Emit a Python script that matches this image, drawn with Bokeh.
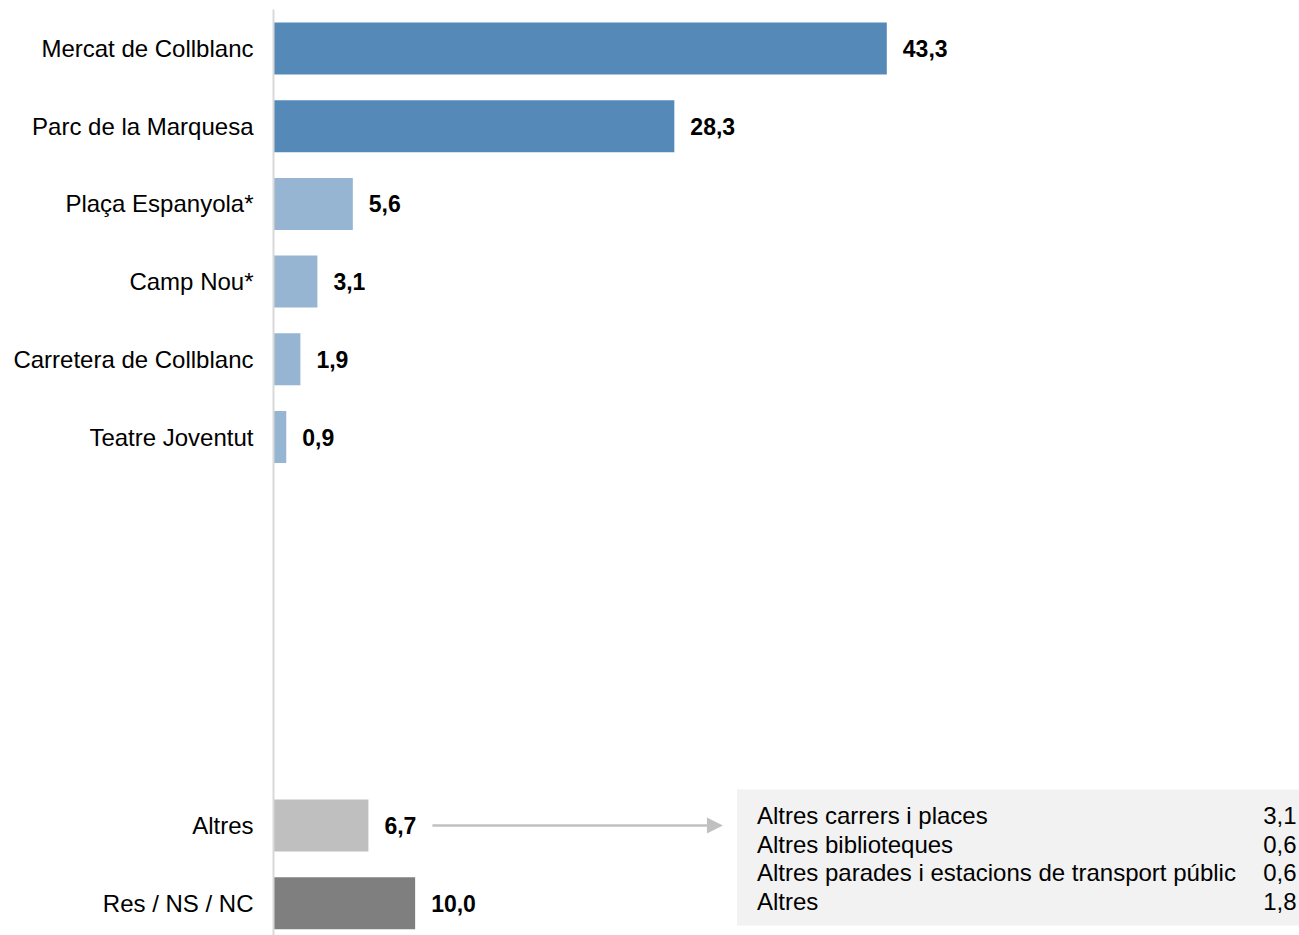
from bokeh.plotting import figure
from bokeh.models import Range1d, FixedTicker, ColumnDataSource, Arrow, NormalHead
from bokeh.core.properties import value
from bokeh.embed import file_html
from bokeh.resources import INLINE

# ---------------- data ----------------
categories = ["Mercat de Collblanc", "Parc de la Marquesa", "Plaça Espanyola*",
              "Camp Nou*", "Carretera de Collblanc", "Teatre Joventut",
              "Altres", "Res / NS / NC"]
values = [43.3, 28.3, 5.6, 3.1, 1.9, 0.9, 6.7, 10.0]
row_positions = [0, 1, 2, 3, 4, 5, 10, 11]
bar_colors = ["#558ab8", "#558ab8", "#95b5d3", "#95b5d3", "#95b5d3", "#95b5d3",
              "#bfbfbf", "#7f7f7f"]

detail_labels = ["Altres carrers i places", "Altres biblioteques",
                 "Altres parades i estacions de transport públic", "Altres"]
detail_values = [3.1, 0.6, 0.6, 1.8]

def fmt(v):
    return f"{v:.1f}".replace(".", ",")

# ---------------- layout ----------------
W, H = 1299, 935
LEFT = 274          # screen px of frame start (value 0)
TOP = 9
PX_PER_UNIT = 14.15
ROW0 = 48           # screen px of first row centre
PITCH = 77.7        # px between rows
FONT = "Liberation Sans"

def sx(px):         # screen px -> data x
    return (px - LEFT) / PX_PER_UNIT

def sy(py):         # screen px -> data y (row units)
    return (py - ROW0) / PITCH

p = figure(width=W, height=H, output_backend="svg", toolbar_location=None,
           x_range=Range1d(0, sx(W)),
           y_range=Range1d(sy(H), sy(TOP)),
           min_border_left=LEFT - 1, min_border_right=0,
           min_border_top=TOP, min_border_bottom=0,
           x_axis_location=None)
p.outline_line_color = None
p.grid.visible = False
p.background_fill_color = "white"

src = ColumnDataSource(dict(y=row_positions, v=values, c=bar_colors,
                            lab=[fmt(v) for v in values]))
p.hbar(y="y", left=0, right="v", height=52 / PITCH, fill_color="c",
       line_color=None, source=src)
p.text(x="v", y="y", text="lab", source=src, x_offset=16,
       text_baseline="middle", text_align="left",
       text_font=value(FONT), text_font_style="bold",
       text_font_size="23px", text_color="black")

# y axis with category labels
ax = p.yaxis[0]
ax.ticker = FixedTicker(ticks=row_positions)
ax.major_label_overrides = {pos: cat for pos, cat in zip(row_positions, categories)}
ax.axis_line_color = "#d9d9d9"
ax.axis_line_width = 2
ax.major_tick_line_color = None
ax.minor_tick_line_color = None
ax.major_tick_out = 0
ax.major_tick_in = 0
ax.major_label_standoff = 20
ax.major_label_text_font = FONT
ax.major_label_text_font_size = "24px"
ax.major_label_text_color = "black"

# arrow from "Altres" to detail box
altres_i = categories.index("Altres")
ay = row_positions[altres_i]
arrow_start = values[altres_i] + 64 / PX_PER_UNIT
box_left = sx(737)
p.add_layout(Arrow(x_start=arrow_start, y_start=ay,
                   x_end=box_left - 14 / PX_PER_UNIT, y_end=ay,
                   line_color="#c0c0c0", line_width=2.5,
                   end=NormalHead(size=16, fill_color="#c0c0c0", line_color=None)))

# detail box
p.quad(left=box_left, right=sx(W), top=sy(789), bottom=sy(925),
       fill_color="#f2f2f2", line_color=None)
line_px = 28.7
dy = [sy(815 + i * line_px) for i in range(len(detail_labels))]
p.text(x=[box_left + 20 / PX_PER_UNIT] * len(detail_labels), y=dy, text=detail_labels,
       text_baseline="middle", text_align="left", text_font=value(FONT),
       text_font_size="24px", text_color="black")
p.text(x=[sx(W - 3)] * len(detail_values), y=dy,
       text=[fmt(v) for v in detail_values],
       text_baseline="middle", text_align="right", text_font=value(FONT),
       text_font_size="24px", text_color="black")

open("out.html", "w").write(file_html(p, INLINE))
